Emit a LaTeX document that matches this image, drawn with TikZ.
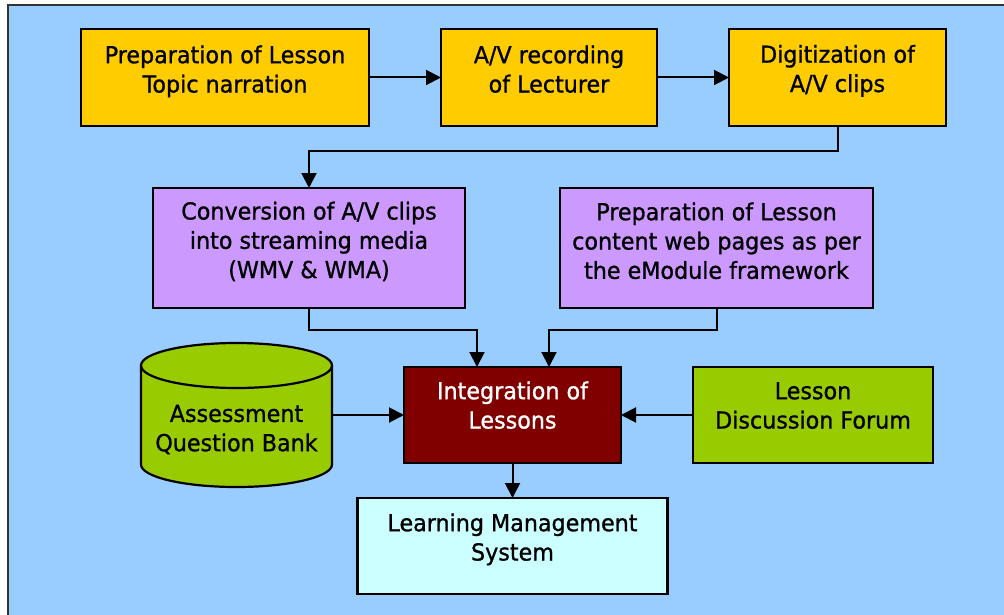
\documentclass[tikz,border=0pt]{standalone}
\usepackage{fontspec}
\setmainfont{DejaVu Sans}[FakeStretch=0.95,FakeBold=1]
\usetikzlibrary{arrows.meta}
\definecolor{bgblue}{HTML}{99CCFF}
\definecolor{boxyellow}{HTML}{FFCC00}
\definecolor{boxpurple}{HTML}{CC99FF}
\definecolor{boxgreen}{HTML}{99CC00}
\definecolor{boxmaroon}{HTML}{800000}
\definecolor{boxcyan}{HTML}{CCFFFF}
\definecolor{framegray}{HTML}{333333}
\begin{document}
\begin{tikzpicture}[x=1pt,y=-1pt,
  box/.style={draw=black, line width=2.2pt, inner sep=0pt, outer sep=0pt, anchor=north west},
  txt/.style={align=center, font=\fontsize{23.4}{29.3}\selectfont, inner sep=0pt, anchor=north},
  arr/.style={draw=black, line width=2pt, -{Triangle[length=15pt,width=15pt]}}
]
\useasboundingbox (0,0) rectangle (1004,615);
\fill[white] (0,0) rectangle (1004,615);
\draw[fill=bgblue, draw=framegray, line width=2pt] (8,5) rectangle (1010,625);

% top row
\node[box, fill=boxyellow, minimum width=288, minimum height=97] (b1) at (81,29) {};
\node[txt] (t1) at ([yshift=-13.5pt]b1.north) {\strut Preparation of Lesson\\Topic narration};
\node[box, fill=boxyellow, minimum width=216, minimum height=97] (b2) at (441,29) {};
\node[txt] (t2) at ([yshift=-13.5pt]b2.north) {\strut A/V recording\\of Lecturer};
\node[box, fill=boxyellow, minimum width=217, minimum height=97] (b3) at (729,29) {};
\node[txt] (t3) at ([yshift=-13pt]b3.north) {\strut Digitization of\\A/V clips};

% second row
\node[box, fill=boxpurple, minimum width=312, minimum height=120] (b4) at (153,188) {};
\node[txt] (t4) at ([yshift=-10.8pt]b4.north) {\strut Conversion of A/V clips\\into streaming media\\(WMV \& WMA)};
\node[box, fill=boxpurple, minimum width=313, minimum height=120] (b5) at (560,188) {};
\node[txt] (t5) at ([yshift=-11.5pt]b5.north) {\strut Preparation of Lesson\\content web pages as per\\the eModule framework};

% third row
\node[box, fill=boxmaroon, minimum width=217, minimum height=96] (integ) at (404,367) {};
\node[txt, text=white] (t6) at ([yshift=-11.5pt]integ.north) {\strut Integration of\\Lessons};
\node[box, fill=boxgreen, minimum width=240, minimum height=96] (forum) at (693,367) {};
\node[txt] (t7) at ([yshift=-11.5pt]forum.north) {\strut Lesson\\Discussion Forum};

% cylinder
\draw[fill=boxgreen, draw=black, line width=2.2pt]
  (141,365.5) -- (141,464.5)
  arc[start angle=180, end angle=0, x radius=95.5, y radius=22.5]
  -- (332,365.5)
  arc[start angle=0, end angle=-180, x radius=95.5, y radius=22.5] -- cycle;
\draw[draw=black, line width=2.2pt] (141,365.5)
  arc[start angle=180, end angle=0, x radius=95.5, y radius=22.5];
\node[inner sep=0pt, outer sep=0pt, minimum width=191, minimum height=144] (qb) at (236.5,415) {};
\node[txt] (t8) at (236.5,401.2) {\strut Assessment\\Question Bank};

% bottom
\node[box, fill=boxcyan, minimum width=310, minimum height=96] (lms) at (357.5,498) {};
\node[txt] (t9) at ([yshift=-12.5pt]lms.north) {\strut Learning Management\\System};

% connectors
\draw[arr] (b1.east) -- (b2.west);
\draw[arr] (b2.east) -- (b3.west);
\draw[arr] (b3.south) -- ++(0,25) -| (b4.north);
\draw[arr] (b4.south) -- ++(0,21.5) -| ([xshift=-35.5pt]integ.north);
\draw[arr] (b5.south) -- ++(0,21.5) -| ([xshift=36.5pt]integ.north);
\draw[arr] (qb.east) -- (integ.west);
\draw[arr] (forum.west) -- (integ.east);
\draw[arr] (integ.south) -- (lms.north);
\end{tikzpicture}
\end{document}
